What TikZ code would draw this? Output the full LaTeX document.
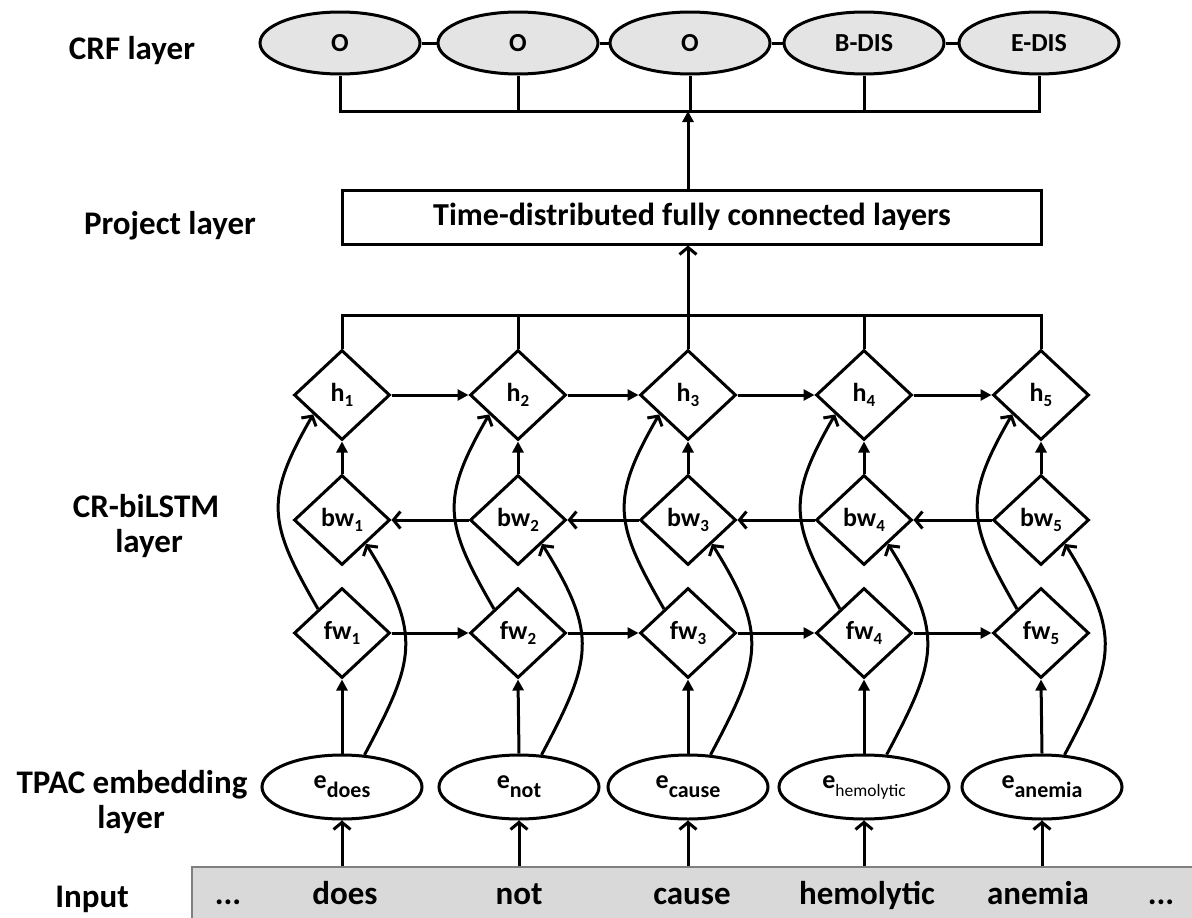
\documentclass[tikz,border=0pt]{standalone}
\usepackage{fontspec}
\setmainfont{Carlito}
\usetikzlibrary{shapes.geometric,arrows.meta}

\definecolor{crfgray}{HTML}{E4E4E4}
\definecolor{barfill}{HTML}{D9D9D9}
\definecolor{barline}{HTML}{7F7F7F}

% lowered indices for the cell and embedding labels
\newcommand\dsub[1]{\raisebox{-5pt}{\fontsize{17}{17}\selectfont #1}}
\newcommand\esub[1]{\raisebox{-9pt}{\fontsize{22}{22}\selectfont #1}}
\newcommand\esubthin[1]{\raisebox{-8pt}{\fontsize{17.5}{17.5}\selectfont\mdseries #1}}

\begin{document}
\begin{tikzpicture}[x=1pt,y=1pt,
  ln/.style={line width=3pt},
  full/.style={ln,-{Triangle[length=11pt,width=11pt]}},
  open/.style={ln,-{Straight Barb[length=7pt,width=17pt]}},
  crf/.style={ellipse,draw,ln,fill=crfgray,minimum width=160pt,minimum height=62pt,
    inner sep=0pt,font=\fontsize{26}{30}\selectfont\bfseries},
  emb/.style={ellipse,draw,ln,fill=white,minimum width=160pt,minimum height=64pt,
    inner sep=0pt,font=\fontsize{26}{30}\selectfont\bfseries},
  cell/.style={diamond,draw,ln,fill=white,minimum width=96pt,minimum height=90pt,
    inner sep=0pt,font=\fontsize{26}{30}\selectfont\bfseries},
  layerlabel/.style={anchor=base,inner sep=0pt,font=\fontsize{33}{40}\selectfont\bfseries},
  word/.style={anchor=base,inner sep=0pt,font=\fontsize{33}{40}\selectfont\bfseries}]

\useasboundingbox (0,0) rectangle (1192,-918);

% input strip
\node[draw=barline,line width=2pt,fill=barfill,anchor=north west,
  minimum width=1040pt,minimum height=80pt,inner sep=0pt] (bar) at (191,-866) {};

% CRF output layer
\node[crf] (c1) at (340,-43) {O};
\node[crf] (c2) at (518,-43) {O};
\node[crf] (c3) at (690,-43) {O};
\node[crf] (c4) at (864,-43) {B-DIS};
\node[crf] (c5) at (1039,-43) {E-DIS};
\foreach \i/\j in {1/2,2/3,3/4,4/5} \draw[ln] (c\i.east) -- (c\j.west);

% projection box
\node[draw,ln,minimum width=699pt,minimum height=54pt,inner sep=0pt,
  font=\fontsize{32}{38}\selectfont\bfseries] (box) at (692,-217)
  {Time-distributed fully connected layers};

% recurrent cells
\foreach \i/\x in {1/342,2/518,3/688,4/864,5/1041} {
  \node[cell] (h\i) at (\x,-395) {h\dsub{\i}};
  \node[cell] (bw\i) at (\x,-520) {bw\dsub{\i}};
  \node[cell] (fw\i) at (\x,-633) {fw\dsub{\i}};
}

% embeddings
\node[emb] (e1) at (342,-787) {e\esub{does}};
\node[emb] (e2) at (519,-787) {e\esub{not}};
\node[emb] (e3) at (688,-787) {e\esub{cause}};
\node[emb,minimum width=170pt] (e4) at (864,-787) {e\esubthin{hemolytic}};
\node[emb] (e5) at (1042,-787) {e\esub{anemia}};

% input words
\node[word] (w0) at (228,-904) {...};
\node[word] (w1) at (345,-904) {does};
\node[word] (w2) at (519,-904) {not};
\node[word] (w3) at (692,-904) {cause};
\node[word] (w4) at (867,-904) {hemolytic};
\node[word] (w5) at (1038,-904) {anemia};
\node[word] (w6) at (1161,-904) {...};

% layer names
\node[layerlabel] (lcrf) at (132,-59) {CRF layer};
\node[layerlabel] (lproj) at (170,-234) {Project layer};
\node[layerlabel] (lbi1) at (146,-517) {CR-biLSTM};
\node[layerlabel] (lbi2) at (149,-552) {layer};
\node[layerlabel] (lemb1) at (132,-793) {TPAC embedding};
\node[layerlabel] (lemb2) at (131,-828) {layer};
\node[layerlabel] (lin) at (92,-907) {Input};

% CRF collector
\coordinate (topbar) at (0,-111);
\draw[ln] (c1.south) -- (c1.south |- topbar) -- (c5.south |- topbar) -- (c5.south);
\foreach \i in {2,3,4} \draw[ln] (c\i.south) -- (c\i.south |- topbar);
\draw[full] (box.north -| h3) -- (h3 |- topbar);

% hidden-state collector
\coordinate (midbar) at (0,-315);
\draw[ln] (h1.north) -- (h1.north |- midbar) -- (h5.north |- midbar) -- (h5.north);
\foreach \i in {2,3,4} \draw[ln] (h\i.north) -- (h\i.north |- midbar);
\draw[open] (h3 |- midbar) -- (box.south -| h3);

% chains along time
\foreach \i/\j in {1/2,2/3,3/4,4/5} {
  \draw[full] (h\i.east) -- (h\j.west);
  \draw[open] (bw\j.west) -- (bw\i.east);
  \draw[full] (fw\i.east) -- (fw\j.west);
}

% vertical flow and skip connections
\foreach \i in {1,...,5} {
  \draw[full] (bw\i.north) -- (h\i.south);
  \draw[full] (e\i.north) -- (fw\i.south);
  \draw[open] (bar.north -| e\i) -- (e\i.south);
  \draw[open] (fw\i.135) to[out=120,in=-120,looseness=1.3] (h\i.214);
  \draw[open] (e\i.55) to[out=62,in=-58,looseness=1.3] (bw\i.-45);
}
\end{tikzpicture}
\end{document}
